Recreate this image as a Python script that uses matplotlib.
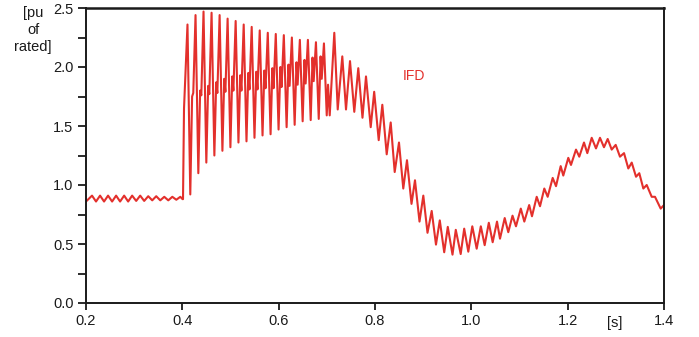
import numpy as np
import matplotlib
matplotlib.use('Agg')
import matplotlib.pyplot as plt
from matplotlib.ticker import MultipleLocator

plt.rcParams['font.family'] = ['Liberation Sans', 'DejaVu Sans']

# pre-fault ripple, 0.2 .. 0.4 s
t_pre = [0.2000, 0.2125, 0.2208, 0.2292, 0.2375, 0.2458, 0.2542, 0.2625, 0.2708,
         0.2792, 0.2875, 0.2958, 0.3042, 0.3125, 0.3208, 0.3292, 0.3375, 0.3458,
         0.3542, 0.3625, 0.3708, 0.3792, 0.3875, 0.3958, 0.4005]
v_pre = [0.86, 0.91, 0.86, 0.91, 0.86, 0.91, 0.86, 0.91, 0.86,
         0.91, 0.86, 0.91, 0.865, 0.91, 0.865, 0.905, 0.87, 0.905,
         0.87, 0.90, 0.87, 0.90, 0.875, 0.90, 0.88]

# fault: big peak, deep trough, mid bump, mid dip per cycle
t_fault = [0.4014, 0.4035,
           0.4107, 0.4165, 0.4203, 0.4227,
           0.4274, 0.4332, 0.4370, 0.4394,
           0.4440, 0.4498, 0.4536, 0.4560,
           0.4607, 0.4665, 0.4703, 0.4727,
           0.4774, 0.4832, 0.4870, 0.4894,
           0.4940, 0.4998, 0.5036, 0.5060,
           0.5107, 0.5165, 0.5203, 0.5227,
           0.5274, 0.5332, 0.5370, 0.5394,
           0.5440, 0.5498, 0.5536, 0.5560,
           0.5607, 0.5665, 0.5703, 0.5727,
           0.5774, 0.5832, 0.5870, 0.5894,
           0.5940, 0.5998, 0.6036, 0.6060,
           0.6107, 0.6165, 0.6203, 0.6227,
           0.6274, 0.6332, 0.6370, 0.6394,
           0.6440, 0.6498, 0.6536, 0.6560,
           0.6607, 0.6665, 0.6703, 0.6727,
           0.6774, 0.6832, 0.6870, 0.6894,
           0.6940, 0.6998, 0.7025, 0.7060]
v_fault = [0.88, 1.65,
           2.36, 0.92, 1.75, 1.78,
           2.44, 1.10, 1.80, 1.76,
           2.47, 1.19, 1.84, 1.77,
           2.46, 1.25, 1.87, 1.78,
           2.44, 1.29, 1.90, 1.79,
           2.41, 1.32, 1.92, 1.80,
           2.39, 1.36, 1.93, 1.80,
           2.36, 1.37, 1.95, 1.81,
           2.34, 1.40, 1.96, 1.81,
           2.31, 1.42, 1.97, 1.82,
           2.29, 1.43, 1.99, 1.82,
           2.28, 1.47, 2.00, 1.83,
           2.27, 1.49, 2.02, 1.84,
           2.25, 1.51, 2.04, 1.85,
           2.23, 1.54, 2.06, 1.86,
           2.23, 1.55, 2.08, 1.88,
           2.21, 1.56, 2.09, 1.90,
           2.20, 1.59, 1.85, 1.59]

# decay and recovery, alternating peak / trough
t_post = [0.7155, 0.7226, 0.7321, 0.7398, 0.7481, 0.7570, 0.7653, 0.7740, 0.7813,
          0.7911, 0.7983, 0.8077, 0.8152, 0.8243, 0.8326, 0.8409, 0.8498, 0.8587,
          0.8664, 0.8758, 0.8830, 0.8924, 0.9003, 0.9090, 0.9177, 0.9266, 0.9345,
          0.9437, 0.9511, 0.9609, 0.9677, 0.9779, 0.9852, 0.9937, 1.0020, 1.0111,
          1.0197, 1.0277, 1.0363, 1.0443, 1.0533, 1.0595, 1.0693, 1.0767, 1.0855,
          1.0927, 1.1027, 1.1100, 1.1201, 1.1259, 1.1357, 1.1426, 1.1515, 1.1585,
          1.1689, 1.1758, 1.1855, 1.1909, 1.2013, 1.2069, 1.2173, 1.2241, 1.2339,
          1.2408, 1.2499, 1.2588, 1.2671, 1.2754, 1.2831, 1.2914, 1.2997, 1.3086,
          1.3170, 1.3259, 1.3330, 1.3419, 1.3487, 1.3571, 1.3641, 1.3745, 1.3813,
          1.3931, 1.4000]
v_post = [2.29, 1.64, 2.09, 1.64, 2.05, 1.62, 1.99, 1.57, 1.92,
          1.49, 1.79, 1.38, 1.68, 1.26, 1.53, 1.11, 1.36, 0.97,
          1.21, 0.84, 1.04, 0.69, 0.91, 0.595, 0.78, 0.495, 0.70,
          0.43, 0.645, 0.41, 0.62, 0.415, 0.63, 0.435, 0.65, 0.46,
          0.65, 0.49, 0.68, 0.515, 0.69, 0.545, 0.72, 0.60, 0.74,
          0.65, 0.80, 0.69, 0.83, 0.735, 0.90, 0.82, 0.97, 0.90,
          1.06, 0.99, 1.16, 1.08, 1.23, 1.17, 1.30, 1.24, 1.36,
          1.27, 1.40, 1.31, 1.40, 1.32, 1.39, 1.30, 1.34, 1.24,
          1.27, 1.14, 1.19, 1.07, 1.10, 0.97, 1.00, 0.90, 0.90,
          0.80, 0.83]

x_ticks = [0.2, 0.4, 0.6, 0.8, 1.0, 1.2, 1.4]
y_ticks = [0.0, 0.5, 1.0, 1.5, 2.0, 2.5]

t = np.array(t_pre + t_fault + t_post)
v = np.array(v_pre + v_fault + v_post)

red = '#e3302c'
txt = '#1a1a1a'

fig = plt.figure(figsize=(6.99, 3.37), dpi=100)
ax = fig.add_axes([86/699, 1 - 303/337, (664 - 86)/699, (303 - 8)/337])
ax.plot(t, v, color=red, lw=1.5)

ax.set_xlim(0.2, 1.4)
ax.set_ylim(0.0, 2.5)
ax.set_xticks(x_ticks)
ax.set_xticklabels([f'{x:.1f}' for x in x_ticks])
ax.set_yticks(y_ticks)
ax.set_yticklabels([f'{y:.1f}' for y in y_ticks])
ax.yaxis.set_minor_locator(MultipleLocator(0.25))
ax.tick_params(which='both', direction='out', width=1.3, color=txt,
               labelsize=10.5, labelcolor=txt)
ax.tick_params(axis='y', which='both', length=6, pad=3)
ax.tick_params(axis='x', which='major', length=5, pad=3)
for s in ax.spines.values():
    s.set_linewidth(1.4)
    s.set_color(txt)
ax.spines['top'].set_linewidth(1.8)

fig.text(33/699, 1 - 30/337, '[pu\nof\nrated]', ha='center', va='center',
         fontsize=10.5, color=txt, linespacing=1.25)
fig.text(615/699, 1 - 323/337, '[s]', ha='center', va='center',
         fontsize=10.5, color=txt)
ax.text(0.88, 1.92, 'IFD', color=red, fontsize=10, ha='center', va='center')

fig.savefig('out.png', dpi=100)
